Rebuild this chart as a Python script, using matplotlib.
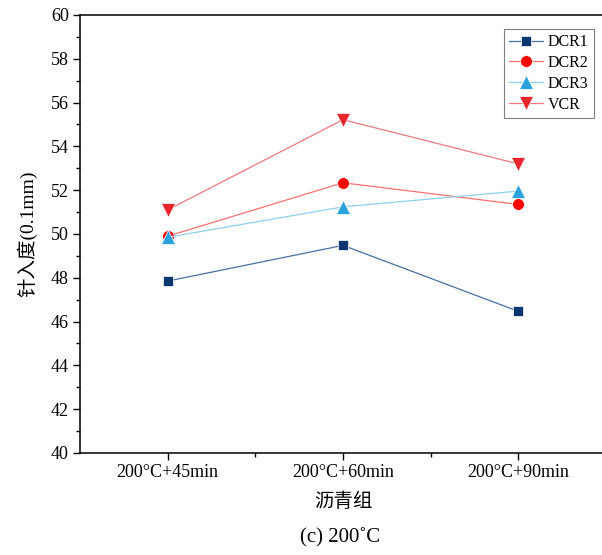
import numpy as np
import matplotlib.pyplot as plt

plt.rcParams['font.family'] = ['Liberation Serif', 'Noto Sans CJK SC']

# 针入度数据 (0.1mm)
groups = ['200°C+45min', '200°C+60min', '200°C+90min']
dcr1 = [47.85, 49.48, 46.47]
dcr2 = [49.90, 52.34, 51.35]
dcr3 = [49.85, 51.24, 51.96]
vcr = [51.10, 55.22, 53.20]

x = np.arange(1, len(groups) + 1)

fig = plt.figure(figsize=(6.02, 5.55), dpi=100)
ax = fig.add_axes([80 / 602, 102 / 555, 526 / 602, 438 / 555])

series = [
    ('DCR1', dcr1, 's', '#0b3770', '#4a6fa0', 7.5),
    ('DCR2', dcr2, 'o', '#ff0000', '#ff7070', 8.5),
    ('DCR3', dcr3, '^', '#2aa3dd', '#8fd0ef', 9.5),
    ('VCR', vcr, 'v', '#e8252d', '#f07a7e', 9.5),
]
for name, vals, mk, mc, lc, ms in series:
    ax.plot(x, vals, color=lc, lw=0.9, marker=mk, markersize=ms,
            markerfacecolor=mc, markeredgecolor='white', markeredgewidth=0.5,
            label=name)

ax.set_xlim(0.5, 3.5)
ax.set_ylim(40, 60)
ax.set_xticks(x)
ax.set_xticklabels(groups)
ax.set_xticks([1.5, 2.5], minor=True)
ax.set_yticks(np.arange(40, 61, 2))
ax.set_yticks(np.arange(41, 60, 2), minor=True)
ax.tick_params(axis='both', which='major', direction='out', length=5, width=1,
               labelsize=13, pad=3)
ax.tick_params(axis='both', which='minor', direction='out', length=3, width=1)
ax.tick_params(top=False, right=False)
for sp in ax.spines.values():
    sp.set_linewidth(1.1)

ax.set_ylabel('针入度(0.1mm)', fontsize=14, labelpad=10)
ax.set_xlabel('沥青组', fontsize=14, labelpad=8)

leg = ax.legend(loc='upper right', bbox_to_anchor=(0.977, 0.969), fontsize=11.5,
                fancybox=False, edgecolor='#808080', framealpha=1,
                handlelength=2.1, handletextpad=0.3, borderpad=0.35,
                labelspacing=0.3, borderaxespad=0)
leg.get_frame().set_linewidth(0.8)

fig.text(340 / 602, 1 - 538 / 555, '(c) 200˚C', ha='center', va='center', fontsize=15)

fig.savefig('out.png', dpi=100)
